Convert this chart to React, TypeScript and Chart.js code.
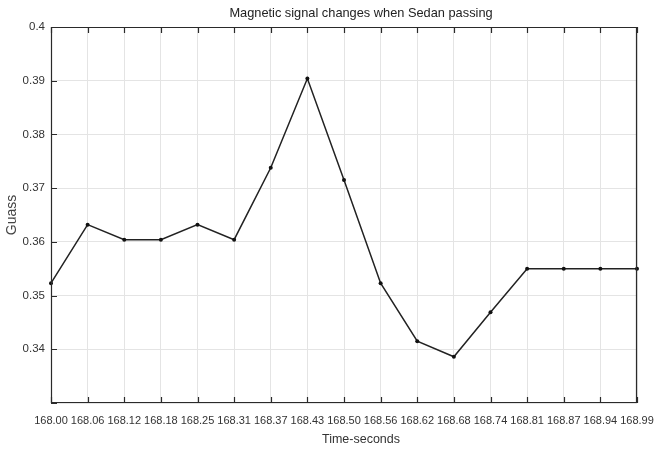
import React, { useEffect, useRef } from "react";
import { Chart, registerables } from "chart.js";

Chart.register(...registerables);

const timeLabels = [
  "168.00", "168.06", "168.12", "168.18", "168.25", "168.31", "168.37", "168.43",
  "168.50", "168.56", "168.62", "168.68", "168.74", "168.81", "168.87", "168.94", "168.99",
];
const gaussValues = [
  0.3523, 0.3632, 0.3604, 0.3604, 0.3632, 0.3604, 0.3738, 0.3904,
  0.3715, 0.3523, 0.3415, 0.3386, 0.3469, 0.355, 0.355, 0.355, 0.355,
];
const yMin = 0.33;
const yMax = 0.4;
const yStep = 0.01;
const chartTitle = "Magnetic signal changes when Sedan passing";
const xTitle = "Time-seconds";

const FONT = "'Liberation Sans', Arial, sans-serif";

const boxPlugin = {
  id: "matlabBox",
  afterDatasetsDraw(chart: any) {
    const { ctx, chartArea } = chart;
    const { left, right, top, bottom } = chartArea;
    ctx.save();
    ctx.strokeStyle = "#2a2a2a";
    ctx.lineWidth = 1.2;
    ctx.beginPath();
    ctx.rect(left + 0.5, top + 0.5, right - left - 1, bottom - top - 1);
    ctx.stroke();
    const xs = chart.scales.x;
    const ys = chart.scales.y;
    ctx.beginPath();
    for (let i = 0; i < timeLabels.length; i++) {
      const px = Math.round(xs.getPixelForValue(i)) + 0.5;
      ctx.moveTo(px, top);
      ctx.lineTo(px, top + 6);
      ctx.moveTo(px, bottom);
      ctx.lineTo(px, bottom - 6);
    }
    ys.ticks.forEach((t: any) => {
      const py = Math.round(ys.getPixelForValue(t.value)) + 0.5;
      ctx.moveTo(left, py);
      ctx.lineTo(left + 6, py);
    });
    ctx.stroke();
    // titles, centred as in the original figure
    const cx = (left + right) / 2 + 17;
    ctx.textAlign = "center";
    ctx.textBaseline = "middle";
    ctx.fillStyle = "#222222";
    ctx.font = `12.8px ${FONT}`;
    ctx.fillText(chartTitle, cx, 13);
    ctx.fillStyle = "#333333";
    ctx.font = `12.5px ${FONT}`;
    ctx.fillText(xTitle, cx, 440);
    ctx.restore();
  },
};

export default function App() {
  const ref = useRef<HTMLCanvasElement>(null);
  useEffect(() => {
    document.body.style.margin = "0";
    const chart = new Chart(ref.current!, {
      type: "line",
      data: {
        labels: timeLabels,
        datasets: [
          {
            data: gaussValues,
            borderColor: "#222222",
            backgroundColor: "#111111",
            borderWidth: 1.5,
            pointRadius: 2,
            pointBorderWidth: 0,
            tension: 0,
          },
        ],
      },
      plugins: [boxPlugin],
      options: {
        responsive: false,
        animation: false,
        layout: { padding: { left: 0, right: 17, top: 27, bottom: 0 } },
        plugins: {
          legend: { display: false },
          tooltip: { enabled: false },
          title: { display: false },
        },
        scales: {
          x: {
            type: "category",
            offset: false,
            grid: { color: "#e4e4e4", drawTicks: false },
            border: { display: false },
            ticks: {
              color: "#333333",
              font: { family: FONT, size: 11 },
              maxRotation: 0,
              minRotation: 0,
              autoSkip: false,
              padding: 11,
            },
            afterFit(scale: any) {
              scale.height = 51;
              scale.paddingRight = 0;
              scale.paddingLeft = 0;
            },
          },
          y: {
            min: yMin,
            max: yMax,
            grid: { color: "#e4e4e4", drawTicks: false },
            border: { display: false },
            ticks: {
              stepSize: yStep,
              color: "#333333",
              font: { family: FONT, size: 11.5 },
              padding: 6,
              callback: (v: any) => {
                const n = Number(Number(v).toFixed(2));
                if (Math.abs(n - yMin) < 1e-9) return "";
                return String(n);
              },
            },
            title: {
              display: true,
              text: "Guass",
              color: "#444444",
              font: { family: FONT, size: 14 },
              padding: { top: 4, bottom: 4 },
            },
            afterFit(scale: any) {
              scale.width = 51;
              scale.paddingTop = 0;
              scale.paddingBottom = 0;
            },
          },
        },
      },
    });
    return () => chart.destroy();
  }, []);
  return (
    <div style={{ position: "absolute", left: 0, top: 0, width: 654, height: 454, background: "#fff" }}>
      <canvas ref={ref} width={654} height={454} />
    </div>
  );
}
